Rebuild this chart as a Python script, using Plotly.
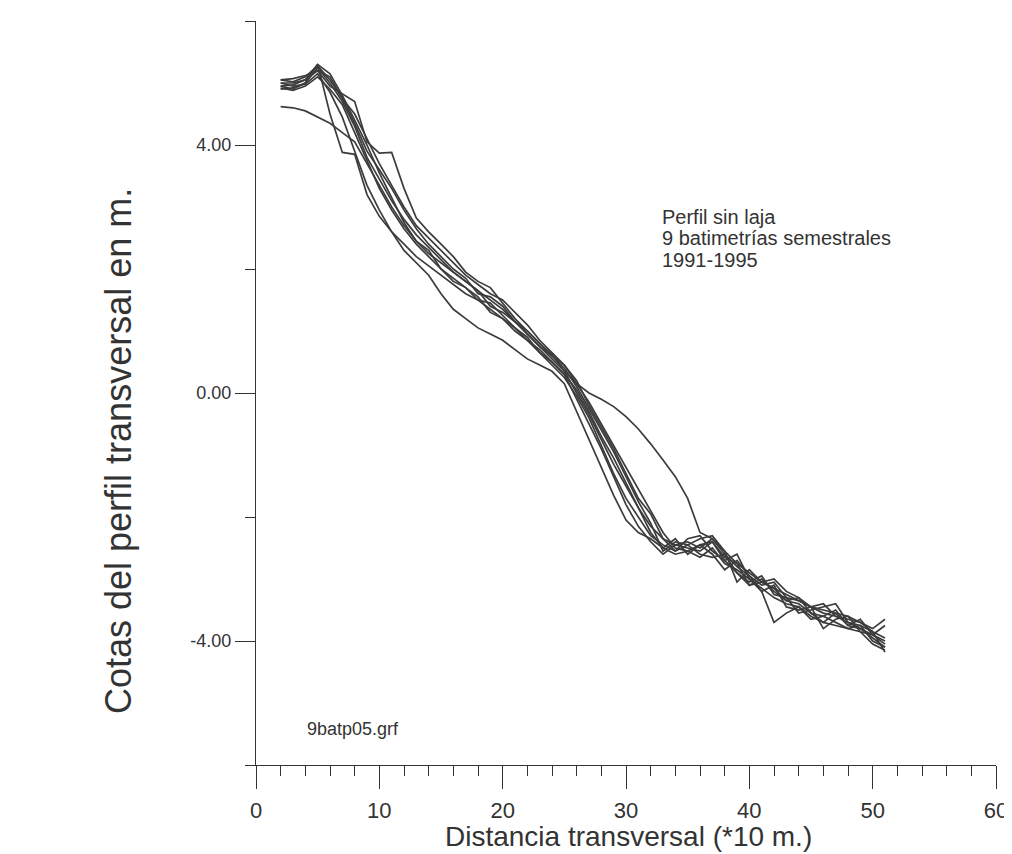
import plotly.graph_objects as go

# distances (*10 m) of every sounding point
x_vals = list(range(2, 52))

# 9 semestral surveys, bed level in m
s1 = [5.05, 5.07, 5.12, 5.20, 4.95, 4.82, 4.70, 4.05, 3.87, 3.88,
      3.30, 2.82, 2.60, 2.40, 2.20, 1.95, 1.80, 1.70, 1.45, 1.20,
      1.00, 0.80, 0.62, 0.35, 0.00, -0.35, -0.75, -1.15, -1.50, -1.85,
      -2.15, -2.35, -2.45, -2.40, -2.50, -2.35, -2.60, -2.80, -2.95, -3.10,
      -3.05, -3.30, -3.35, -3.45, -3.50, -3.55, -3.60, -3.70, -3.80, -3.65]
s2 = [4.95, 4.97, 5.05, 5.30, 4.50, 3.88, 3.85, 3.20, 2.85, 2.60,
      2.40, 2.20, 2.05, 1.90, 1.75, 1.60, 1.50, 1.35, 1.20, 1.00,
      0.85, 0.70, 0.50, 0.30, -0.10, -0.50, -0.90, -1.35, -1.80, -2.15,
      -2.40, -2.60, -2.45, -2.50, -2.55, -2.40, -2.70, -2.90, -3.10, -3.00,
      -3.20, -3.35, -3.40, -3.55, -3.60, -3.50, -3.75, -3.80, -3.95, -4.10]
s3 = [4.62, 4.60, 4.55, 4.45, 4.35, 4.20, 4.05, 3.70, 3.35, 3.00,
      2.70, 2.45, 2.25, 2.10, 1.95, 1.80, 1.65, 1.50, 1.35, 1.15,
      0.95, 0.75, 0.55, 0.35, 0.15, 0.00, -0.10, -0.22, -0.38, -0.58,
      -0.82, -1.08, -1.35, -1.70, -2.25, -2.35, -2.55, -2.75, -2.90, -3.05,
      -3.15, -3.25, -3.35, -3.45, -3.55, -3.60, -3.70, -3.80, -3.90, -4.00]
s4 = [5.00, 4.95, 4.98, 5.15, 4.85, 4.45, 3.90, 3.35, 2.95, 2.60,
      2.30, 2.10, 1.90, 1.60, 1.35, 1.20, 1.05, 0.95, 0.85, 0.70,
      0.55, 0.45, 0.35, 0.15, -0.30, -0.75, -1.20, -1.65, -2.05, -2.25,
      -2.35, -2.50, -2.60, -2.55, -2.65, -2.50, -2.75, -2.85, -3.00, -3.15,
      -3.30, -3.40, -3.45, -3.60, -3.70, -3.75, -3.80, -3.85, -4.05, -4.15]
s5 = [4.90, 4.92, 5.00, 5.25, 5.00, 4.70, 4.30, 3.80, 3.45, 3.10,
      2.80, 2.55, 2.35, 2.15, 1.95, 1.80, 1.65, 1.40, 1.30, 1.15,
      0.95, 0.75, 0.60, 0.40, 0.10, -0.25, -0.60, -0.95, -1.35, -1.75,
      -2.10, -2.55, -2.40, -2.45, -2.35, -2.30, -2.55, -3.05, -2.85, -3.05,
      -3.00, -3.20, -3.30, -3.45, -3.40, -3.60, -3.65, -3.70, -3.85, -3.95]
s6 = [5.00, 5.00, 5.05, 5.20, 5.10, 4.75, 4.35, 3.90, 3.60, 3.30,
      2.95, 2.65, 2.40, 2.20, 2.00, 1.85, 1.60, 1.55, 1.40, 1.15,
      1.00, 0.80, 0.60, 0.45, 0.20, -0.20, -0.55, -0.90, -1.30, -1.70,
      -1.95, -2.35, -2.55, -2.35, -2.30, -2.55, -2.70, -2.60, -3.00, -3.20,
      -3.70, -3.55, -3.45, -3.65, -3.60, -3.70, -3.80, -3.75, -4.00, -4.10]
s7 = [4.95, 4.90, 5.00, 5.30, 5.15, 4.80, 4.40, 4.00, 3.55, 3.15,
      2.75, 2.45, 2.30, 2.00, 1.85, 1.70, 1.50, 1.45, 1.25, 1.05,
      0.90, 0.65, 0.50, 0.30, 0.05, -0.30, -0.70, -1.05, -1.45, -1.85,
      -2.25, -2.50, -2.35, -2.60, -2.45, -2.60, -2.85, -2.70, -2.95, -3.20,
      -3.10, -3.45, -3.50, -3.45, -3.80, -3.65, -3.60, -3.85, -3.90, -4.05]
s8 = [4.92, 4.88, 4.95, 5.10, 4.90, 4.65, 4.20, 3.75, 3.30, 2.95,
      2.65, 2.40, 2.20, 2.00, 1.80, 1.70, 1.55, 1.30, 1.20, 1.05,
      0.85, 0.65, 0.45, 0.25, -0.05, -0.40, -0.85, -1.30, -1.70, -2.00,
      -2.30, -2.45, -2.55, -2.45, -2.60, -2.65, -2.60, -2.90, -3.05, -2.95,
      -3.25, -3.30, -3.55, -3.50, -3.45, -3.40, -3.70, -3.75, -3.85, -4.18]
s9 = [5.05, 5.02, 5.10, 5.28, 5.05, 4.75, 4.50, 4.10, 3.70, 3.35,
      3.00, 2.70, 2.50, 2.30, 2.10, 1.90, 1.75, 1.60, 1.50, 1.30,
      1.10, 0.85, 0.65, 0.45, 0.15, -0.15, -0.50, -0.85, -1.20, -1.55,
      -1.90, -2.25, -2.50, -2.55, -2.45, -2.40, -2.65, -2.75, -3.10, -3.05,
      -3.15, -3.35, -3.30, -3.55, -3.70, -3.55, -3.75, -3.65, -3.90, -3.75]

surveys = [s1, s2, s3, s4, s5, s6, s7, s8, s9]

x_major = [0, 10, 20, 30, 40, 50, 60]
y_major = [-4, 0, 4]
y_labels = ["-4.00", "0.00", "4.00"]

FONT = "Liberation Sans, Arial, sans-serif"
INK = "#333333"

fig = go.Figure()
for s in surveys:
    fig.add_trace(go.Scatter(x=x_vals, y=s, mode="lines",
                             line=dict(color="#3c3c3c", width=1.7),
                             showlegend=False, hoverinfo="skip"))

fig.update_layout(
    width=1012, height=854,
    margin=dict(l=248, r=24, t=13, b=97),
    paper_bgcolor="white", plot_bgcolor="white",
    font=dict(family=FONT, color=INK),
)

fig.update_xaxes(
    range=[0, 60], tickvals=x_major, ticks="outside", ticklen=23,
    tickwidth=1.2, tickcolor=INK, showline=True, linecolor=INK, linewidth=1.2,
    showgrid=False, zeroline=False, tickfont=dict(size=22, color=INK),
    ticklabelstandoff=2,
    minor=dict(dtick=2, tick0=0, ticks="outside", ticklen=10,
               tickwidth=1.2, tickcolor=INK, showgrid=False),
)
fig.update_yaxes(
    range=[-6, 6], tickvals=y_major, ticktext=y_labels, ticks="outside",
    ticklen=20, tickwidth=1.2, tickcolor=INK, showline=True, linecolor=INK,
    linewidth=1.2, showgrid=False, zeroline=False,
    tickfont=dict(size=18, color=INK),
    minor=dict(tickvals=[-6, -2, 2, 6], ticks="outside", ticklen=10,
               tickwidth=1.2, tickcolor=INK, showgrid=False),
)

# axis titles
fig.add_annotation(text="Distancia transversal (*10 m.)", xref="paper", yref="paper",
                   x=0.503, y=-0.096, xanchor="center", yanchor="middle",
                   showarrow=False, font=dict(size=28, color=INK))
fig.add_annotation(text="Cotas del perfil transversal en m.", xref="paper", yref="paper",
                   x=-0.1865, y=0.422, xanchor="center", yanchor="middle",
                   textangle=-90, showarrow=False, font=dict(size=36, color=INK))

# note block
notes = ["Perfil sin laja", "9 batimetrías semestrales", "1991-1995"]
for i, t in enumerate(notes):
    fig.add_annotation(text=t, x=32.75, y=2.84 - i * 0.345, xanchor="left",
                       yanchor="middle", showarrow=False,
                       font=dict(size=20, color=INK))

fig.add_annotation(text="9batp05.grf", x=3.97, y=-5.42, xanchor="left",
                   yanchor="middle", showarrow=False,
                   font=dict(size=18, color=INK))

fig.write_html("out.html")
